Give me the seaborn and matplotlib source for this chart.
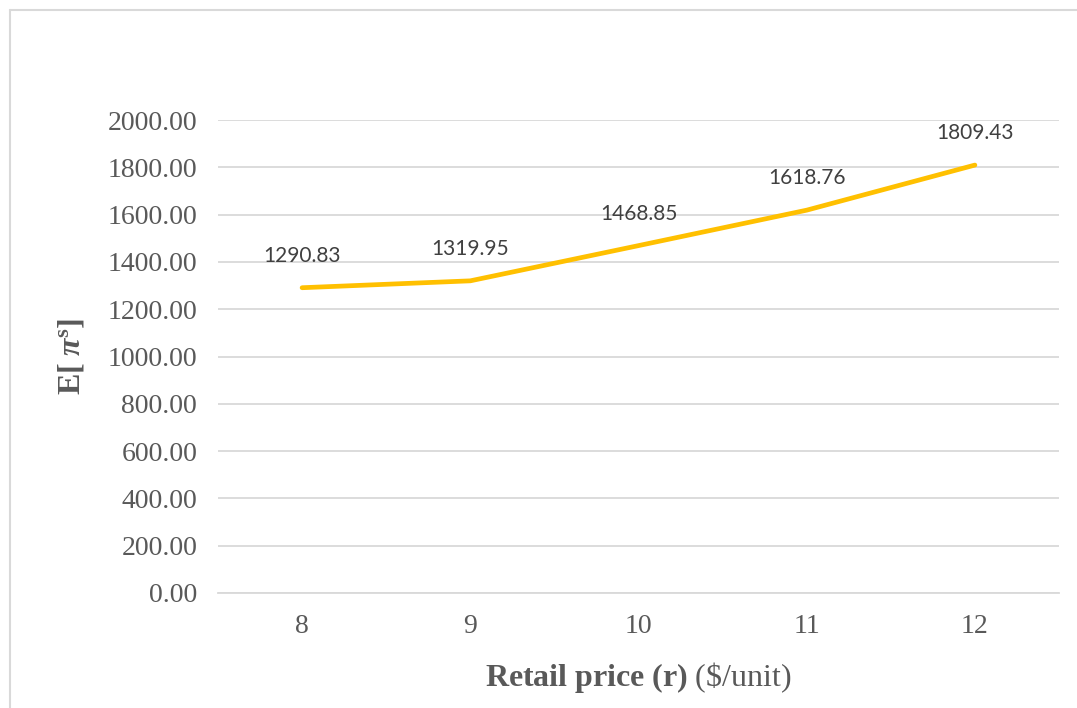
import matplotlib
matplotlib.use("Agg")
import matplotlib.pyplot as plt
import seaborn as sns
import pandas as pd
from matplotlib.lines import Line2D

prices = [8, 9, 10, 11, 12]
profits = [1290.83, 1319.95, 1468.85, 1618.76, 1809.43]
yticks = [0, 200, 400, 600, 800, 1000, 1200, 1400, 1600, 1800, 2000]

sns.set_theme(style="white")
plt.rcParams['font.family'] = ['Liberation Serif', 'DejaVu Serif']
plt.rcParams['mathtext.fontset'] = 'custom'
plt.rcParams['mathtext.rm'] = 'Liberation Serif'
plt.rcParams['mathtext.bf'] = 'Liberation Serif:bold'
plt.rcParams['mathtext.it'] = 'Liberation Serif:italic'
plt.rcParams['mathtext.bfit'] = 'Liberation Serif:bold:italic'

W, H = 1077, 708
fig = plt.figure(figsize=(W / 100, H / 100), dpi=100)
ax = fig.add_axes([218 / W, 1 - 593 / H, (1059 - 218) / W, (593 - 120) / H])

df = pd.DataFrame({"price": prices, "profit": profits})
sns.lineplot(data=df, x="price", y="profit", ax=ax, color="#FFC000", linewidth=3.4)

ax.set_xlim(7.5, 12.5)
ax.set_ylim(0, 2000)
ax.set_yticks(yticks)
ax.set_yticklabels([f"{v:.2f}" for v in yticks])
ax.set_xticks(prices)
ax.set_xticklabels([str(p) for p in prices])
ax.tick_params(axis='both', labelsize=20, colors="#595959", length=0)
ax.tick_params(axis='y', pad=15)
ax.tick_params(axis='x', pad=15)
ax.grid(axis='y', color="#D9D9D9", linewidth=1.3)
ax.set_axisbelow(True)
for s in ['left', 'right', 'top']:
    ax.spines[s].set_visible(False)
ax.spines['bottom'].set_color("#D9D9D9")
ax.spines['bottom'].set_linewidth(1.3)

for x, y in zip(prices, profits):
    ax.annotate(f"{y:.2f}", (x, y), xytext=(0, 23), textcoords='offset points',
                ha='center', va='center', fontsize=15, color="#404040",
                family=['Lato', 'DejaVu Sans'])

ax.set_xlabel(r"$\mathbf{Retail\ price\ (r)}$ (\$/unit)", fontsize=23, color="#595959", labelpad=15)
ax.set_ylabel(r"$\mathbf{E[}\ \mathbfit{\pi}^{\mathbf{s}}\mathbf{]}$", fontsize=23, color="#595959", labelpad=15)

fig.add_artist(Line2D([10 / W, 1.0], [1 - 10 / H, 1 - 10 / H], color="#D9D9D9", linewidth=1.5, transform=fig.transFigure))
fig.add_artist(Line2D([10 / W, 10 / W], [1 - 10 / H, 0], color="#D9D9D9", linewidth=1.5, transform=fig.transFigure))

fig.savefig("out.png", dpi=100, facecolor="white")
